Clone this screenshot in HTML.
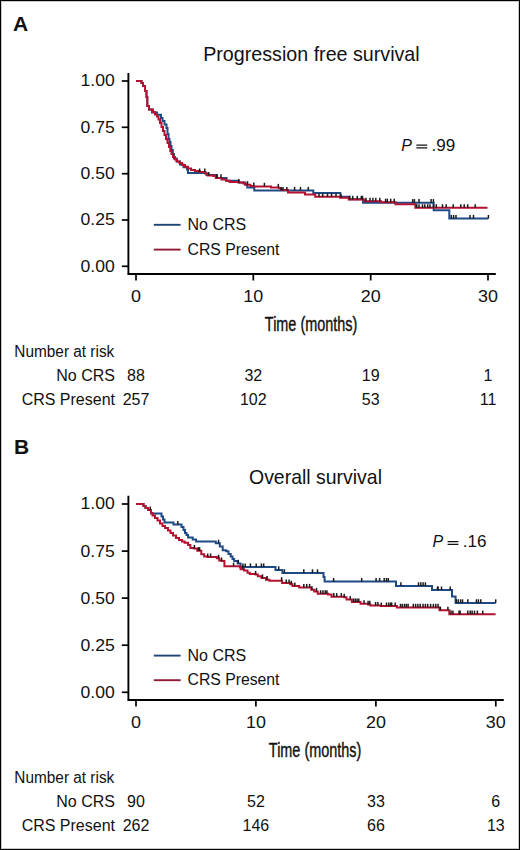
<!DOCTYPE html>
<html><head><meta charset="utf-8"><style>
html,body{margin:0;padding:0;background:#fff;}
body{width:520px;height:850px;overflow:hidden;}
svg{display:block;}
</style></head><body>
<svg width="520" height="850" viewBox="0 0 520 850" font-family='"Liberation Sans", sans-serif' fill="#111">
<rect x="0.5" y="0.5" width="519" height="849" fill="#fff" stroke="#000" stroke-width="1"/>
<path d="M1.5,1 V849 M1,1.5 H519 M1,848.5 H519 M518.5,1 V849" stroke="#c8c8c8" stroke-width="1" fill="none"/>
<text x="13" y="31.2" font-size="21" font-weight="bold">A</text>
<text x="203.2" y="61.1" font-size="21" textLength="216.5" lengthAdjust="spacingAndGlyphs">Progression free survival</text>
<path d="M128.4,73.0 V274.9 M127.4,274.0 H495.8" stroke="#000" stroke-width="1.9" fill="none"/>
<line x1="121.8" y1="81.0" x2="128" y2="81.0" stroke="#000" stroke-width="1.7"/>
<text x="114.8" y="86.4" font-size="16" text-anchor="end" textLength="34.2" lengthAdjust="spacingAndGlyphs">1.00</text>
<line x1="121.8" y1="127.3" x2="128" y2="127.3" stroke="#000" stroke-width="1.7"/>
<text x="114.8" y="132.7" font-size="16" text-anchor="end" textLength="34.2" lengthAdjust="spacingAndGlyphs">0.75</text>
<line x1="121.8" y1="173.7" x2="128" y2="173.7" stroke="#000" stroke-width="1.7"/>
<text x="114.8" y="179.1" font-size="16" text-anchor="end" textLength="34.2" lengthAdjust="spacingAndGlyphs">0.50</text>
<line x1="121.8" y1="220.0" x2="128" y2="220.0" stroke="#000" stroke-width="1.7"/>
<text x="114.8" y="225.4" font-size="16" text-anchor="end" textLength="34.2" lengthAdjust="spacingAndGlyphs">0.25</text>
<line x1="121.8" y1="266.3" x2="128" y2="266.3" stroke="#000" stroke-width="1.7"/>
<text x="114.8" y="271.7" font-size="16" text-anchor="end" textLength="34.2" lengthAdjust="spacingAndGlyphs">0.00</text>
<line x1="136.0" y1="274.0" x2="136.0" y2="280.5" stroke="#000" stroke-width="1.7"/>
<text x="136.0" y="301.8" font-size="16" text-anchor="middle" textLength="10.0" lengthAdjust="spacingAndGlyphs">0</text>
<line x1="253.3" y1="274.0" x2="253.3" y2="280.5" stroke="#000" stroke-width="1.7"/>
<text x="253.3" y="301.8" font-size="16" text-anchor="middle" textLength="19.9" lengthAdjust="spacingAndGlyphs">10</text>
<line x1="370.7" y1="274.0" x2="370.7" y2="280.5" stroke="#000" stroke-width="1.7"/>
<text x="370.7" y="301.8" font-size="16" text-anchor="middle" textLength="19.9" lengthAdjust="spacingAndGlyphs">20</text>
<line x1="488.0" y1="274.0" x2="488.0" y2="280.5" stroke="#000" stroke-width="1.7"/>
<text x="488.0" y="301.8" font-size="16" text-anchor="middle" textLength="19.9" lengthAdjust="spacingAndGlyphs">30</text>
<text x="311.1" y="330.8" font-size="21" text-anchor="middle" textLength="92.5" lengthAdjust="spacingAndGlyphs" stroke="#111" stroke-width="0.4">Time (months)</text>
<text x="401.3" y="150.9" font-size="16" font-style="italic">P</text>
<path d="M416.4,145.2 H427.2 M416.4,147.9 H427.2" stroke="#111" stroke-width="1.3"/>
<text x="431.5" y="150.9" font-size="16" textLength="23.7" lengthAdjust="spacingAndGlyphs">.99</text>
<line x1="153.8" y1="224.8" x2="180.6" y2="224.8" stroke="#1e4474" stroke-width="1.9"/>
<line x1="153.8" y1="249.6" x2="180.6" y2="249.6" stroke="#8e1a33" stroke-width="1.9"/>
<text x="187.5" y="230.0" font-size="16">No CRS</text>
<text x="187.5" y="254.8" font-size="16" textLength="92" lengthAdjust="spacingAndGlyphs">CRS Present</text>
<path d="M136,81 H141.5 V83 H143 V86 H145 V91 H146.5 V97 H147.3 V106 H149 V109.6 H152 V112.5 H157 V114.8 H161 V118 H162.5 V121 H164.5 V124.5 H166.5 V128 H167.5 V134 H168.5 V139 H169.5 V142 H170.5 V146 H171.5 V150 H172.8 V154 H174 V158.5 H176.5 V161.5 H180 V164.5 H183.5 V167.3 H187 V169.6 H188 V173 H206.5 V175 H216.9 V177.9 H226.5 V180.8 H238.8 V182.5 H245 V184.5 H247.3 V187.5 H254.3 V190.5 H313.3 V193 H340.4 V196.8 H349 V199.2 H363 V202.7 H433.7 V210.2 H449.3 V218.5 H488.4" stroke="#1e4a86" stroke-width="2" fill="none"/>
<path d="M136,81 H141.5 V83 H143 V86 H145 V91 H146.5 V97 H147.3 V106 H149 V109.6 H153 V112 H155 V114.5 H157 V116.5 H158.5 V119.5 H160 V123 H161.5 V127 H163 V131 H164.5 V135 H166 V139 H167.5 V143 H169 V147 H170.3 V151 H171.5 V154 H173 V157 H175 V159.5 H177 V161.5 H179.5 V163 H182 V165 H185 V166.7 H188 V168.5 H191 V170 H195 V171 H199.6 V172.1 H205.4 V173.8 H207.7 V175.6 H213.5 V176.1 H215.8 V177.9 H221.5 V179.6 H226.1 V180.8 H229.6 V181.9 H238.8 V182.5 H243.4 V183.6 H245.7 V184.8 H250.4 V186 H254 V186.4 H271 V187.5 H278.8 V188.3 H281.1 V190 H288 V192.5 H305 V194.4 H315.2 V196.8 H340.2 V197.8 H348.7 V199.4 H364.5 V201.3 H381 V202.3 H395.5 V204.3 H415.3 V207.8 H487.5" stroke="#b51130" stroke-width="2" fill="none"/>
<g stroke="#1a1a1a" stroke-width="1.5"><line x1="216.9" y1="177.9" x2="216.9" y2="174.3"/><line x1="238.8" y1="182.5" x2="238.8" y2="178.9"/><line x1="281.1" y1="190.5" x2="281.1" y2="186.9"/><line x1="283.0" y1="190.5" x2="283.0" y2="186.9"/><line x1="286.9" y1="190.5" x2="286.9" y2="186.9"/><line x1="294.6" y1="190.5" x2="294.6" y2="186.9"/><line x1="300.5" y1="190.5" x2="300.5" y2="186.9"/><line x1="308.3" y1="190.5" x2="308.3" y2="186.9"/><line x1="412.7" y1="202.7" x2="412.7" y2="199.1"/><line x1="414.4" y1="202.7" x2="414.4" y2="199.1"/><line x1="419.0" y1="202.7" x2="419.0" y2="199.1"/><line x1="431.1" y1="202.7" x2="431.1" y2="199.1"/><line x1="433.4" y1="202.7" x2="433.4" y2="199.1"/><line x1="451.3" y1="218.5" x2="451.3" y2="214.9"/><line x1="453.6" y1="218.5" x2="453.6" y2="214.9"/><line x1="456.0" y1="218.5" x2="456.0" y2="214.9"/><line x1="470.0" y1="218.5" x2="470.0" y2="214.9"/><line x1="473.5" y1="218.5" x2="473.5" y2="214.9"/><line x1="488.4" y1="218.5" x2="488.4" y2="214.9"/></g>
<g stroke="#1a1a1a" stroke-width="1.5"><line x1="199.6" y1="172.1" x2="199.6" y2="168.5"/><line x1="204.8" y1="172.1" x2="204.8" y2="168.5"/><line x1="208.8" y1="175.6" x2="208.8" y2="172.0"/><line x1="221.0" y1="177.9" x2="221.0" y2="174.3"/><line x1="247.5" y1="184.8" x2="247.5" y2="181.2"/><line x1="253.8" y1="186.0" x2="253.8" y2="182.4"/><line x1="264.4" y1="186.4" x2="264.4" y2="182.8"/><line x1="278.3" y1="187.5" x2="278.3" y2="183.9"/><line x1="319.0" y1="196.8" x2="319.0" y2="193.2"/><line x1="322.7" y1="196.8" x2="322.7" y2="193.2"/><line x1="327.5" y1="196.8" x2="327.5" y2="193.2"/><line x1="331.5" y1="196.8" x2="331.5" y2="193.2"/><line x1="336.0" y1="196.8" x2="336.0" y2="193.2"/><line x1="341.0" y1="197.8" x2="341.0" y2="194.2"/><line x1="349.8" y1="199.4" x2="349.8" y2="195.8"/><line x1="352.7" y1="199.4" x2="352.7" y2="195.8"/><line x1="357.3" y1="199.4" x2="357.3" y2="195.8"/><line x1="361.3" y1="199.4" x2="361.3" y2="195.8"/><line x1="362.5" y1="199.4" x2="362.5" y2="195.8"/><line x1="366.0" y1="201.3" x2="366.0" y2="197.7"/><line x1="370.0" y1="201.3" x2="370.0" y2="197.7"/><line x1="372.9" y1="201.3" x2="372.9" y2="197.7"/><line x1="375.8" y1="201.3" x2="375.8" y2="197.7"/><line x1="379.8" y1="201.3" x2="379.8" y2="197.7"/><line x1="385.6" y1="202.3" x2="385.6" y2="198.7"/><line x1="387.3" y1="202.3" x2="387.3" y2="198.7"/><line x1="390.7" y1="202.3" x2="390.7" y2="198.7"/><line x1="394.2" y1="202.3" x2="394.2" y2="198.7"/><line x1="416.7" y1="207.8" x2="416.7" y2="204.2"/><line x1="419.0" y1="207.8" x2="419.0" y2="204.2"/><line x1="422.5" y1="207.8" x2="422.5" y2="204.2"/><line x1="424.8" y1="207.8" x2="424.8" y2="204.2"/><line x1="427.7" y1="207.8" x2="427.7" y2="204.2"/><line x1="430.0" y1="207.8" x2="430.0" y2="204.2"/><line x1="433.4" y1="207.8" x2="433.4" y2="204.2"/><line x1="436.3" y1="207.8" x2="436.3" y2="204.2"/><line x1="442.5" y1="207.8" x2="442.5" y2="204.2"/><line x1="446.2" y1="207.8" x2="446.2" y2="204.2"/><line x1="453.2" y1="207.8" x2="453.2" y2="204.2"/><line x1="460.8" y1="207.8" x2="460.8" y2="204.2"/><line x1="464.2" y1="207.8" x2="464.2" y2="204.2"/><line x1="467.7" y1="207.8" x2="467.7" y2="204.2"/><line x1="475.2" y1="207.8" x2="475.2" y2="204.2"/></g>
<text x="14.3" y="357.0" font-size="16" textLength="100" lengthAdjust="spacingAndGlyphs">Number at risk</text>
<text x="115" y="381.3" font-size="16" text-anchor="end">No CRS</text>
<text x="115" y="405.3" font-size="16" text-anchor="end">CRS Present</text>
<text x="136.0" y="381.3" font-size="16" text-anchor="middle">88</text>
<text x="253.3" y="381.3" font-size="16" text-anchor="middle">32</text>
<text x="370.7" y="381.3" font-size="16" text-anchor="middle">19</text>
<text x="488.0" y="381.3" font-size="16" text-anchor="middle">1</text>
<text x="136.0" y="405.3" font-size="16" text-anchor="middle">257</text>
<text x="253.3" y="405.3" font-size="16" text-anchor="middle">102</text>
<text x="370.7" y="405.3" font-size="16" text-anchor="middle">53</text>
<text x="488.0" y="405.3" font-size="16" text-anchor="middle">11</text>
<text x="14" y="453.8" font-size="21" font-weight="bold">B</text>
<text x="249.0" y="483.6" font-size="21" textLength="133.0" lengthAdjust="spacingAndGlyphs">Overall survival</text>
<path d="M128.4,495.8 V700.9 M127.4,700.0 H503.8" stroke="#000" stroke-width="1.9" fill="none"/>
<line x1="121.8" y1="504.0" x2="128" y2="504.0" stroke="#000" stroke-width="1.7"/>
<text x="114.8" y="509.4" font-size="16" text-anchor="end" textLength="34.2" lengthAdjust="spacingAndGlyphs">1.00</text>
<line x1="121.8" y1="551.1" x2="128" y2="551.1" stroke="#000" stroke-width="1.7"/>
<text x="114.8" y="556.5" font-size="16" text-anchor="end" textLength="34.2" lengthAdjust="spacingAndGlyphs">0.75</text>
<line x1="121.8" y1="598.1" x2="128" y2="598.1" stroke="#000" stroke-width="1.7"/>
<text x="114.8" y="603.5" font-size="16" text-anchor="end" textLength="34.2" lengthAdjust="spacingAndGlyphs">0.50</text>
<line x1="121.8" y1="645.2" x2="128" y2="645.2" stroke="#000" stroke-width="1.7"/>
<text x="114.8" y="650.6" font-size="16" text-anchor="end" textLength="34.2" lengthAdjust="spacingAndGlyphs">0.25</text>
<line x1="121.8" y1="692.3" x2="128" y2="692.3" stroke="#000" stroke-width="1.7"/>
<text x="114.8" y="697.7" font-size="16" text-anchor="end" textLength="34.2" lengthAdjust="spacingAndGlyphs">0.00</text>
<line x1="136.0" y1="700.0" x2="136.0" y2="706.5" stroke="#000" stroke-width="1.7"/>
<text x="136.0" y="727.8" font-size="16" text-anchor="middle" textLength="10.0" lengthAdjust="spacingAndGlyphs">0</text>
<line x1="255.9" y1="700.0" x2="255.9" y2="706.5" stroke="#000" stroke-width="1.7"/>
<text x="255.9" y="727.8" font-size="16" text-anchor="middle" textLength="19.9" lengthAdjust="spacingAndGlyphs">10</text>
<line x1="375.9" y1="700.0" x2="375.9" y2="706.5" stroke="#000" stroke-width="1.7"/>
<text x="375.9" y="727.8" font-size="16" text-anchor="middle" textLength="19.9" lengthAdjust="spacingAndGlyphs">20</text>
<line x1="495.8" y1="700.0" x2="495.8" y2="706.5" stroke="#000" stroke-width="1.7"/>
<text x="495.8" y="727.8" font-size="16" text-anchor="middle" textLength="19.9" lengthAdjust="spacingAndGlyphs">30</text>
<text x="315.1" y="756.8" font-size="21" text-anchor="middle" textLength="92.5" lengthAdjust="spacingAndGlyphs" stroke="#111" stroke-width="0.4">Time (months)</text>
<text x="432.5" y="547.3" font-size="16" font-style="italic">P</text>
<path d="M447.6,541.6 H458.4 M447.6,544.3 H458.4" stroke="#111" stroke-width="1.3"/>
<text x="462.7" y="547.3" font-size="16" textLength="23.7" lengthAdjust="spacingAndGlyphs">.16</text>
<line x1="153.8" y1="655.6" x2="180.6" y2="655.6" stroke="#1e4474" stroke-width="1.9"/>
<line x1="153.8" y1="680.2" x2="180.6" y2="680.2" stroke="#8e1a33" stroke-width="1.9"/>
<text x="187.5" y="660.8" font-size="16">No CRS</text>
<text x="187.5" y="685.4" font-size="16" textLength="92" lengthAdjust="spacingAndGlyphs">CRS Present</text>
<path d="M136,504 H143.5 V506 H145.5 V508 H148 V510 H151 V513.5 H161.5 V516.5 H163 V519.5 H164.5 V522.6 H173.5 V524.6 H181.5 V527 H183.5 V530 H185 V533 H186.5 V535 H188.1 V537.5 H192.7 V539.5 H196.1 V541.5 H215.8 V543.3 H219.8 V546.5 H222.7 V550.2 H226.1 V551.3 H228.5 V554 H230.7 V556.5 H232.5 V559 H234.2 V561.1 H237.7 V563.4 H240.6 V567 H275.5 V569.9 H282.4 V572.9 H323.5 V577.1 H324.6 V581.6 H396 V585.9 H432 V590.1 H452 V596.4 H455.6 V602.9 H495.7" stroke="#1e4a86" stroke-width="2" fill="none"/>
<path d="M136,504 H143.5 V506 H145.5 V508 H148 V510 H151 V513 H152.5 V515.5 H155 V518 H157.5 V520.5 H160 V523.5 H162.5 V526 H165 V528 H168 V530.5 H170.5 V533 H173 V535.5 H176 V538 H179 V540 H182 V541.5 H184.6 V542.7 H188.1 V545 H190.4 V547.9 H193.8 V548.5 H197.3 V550.8 H201.3 V554.2 H204.2 V556.5 H207.7 V557.1 H216.9 V558.3 H219.2 V560.6 H221.5 V561.1 H224.4 V566.3 H240 V567.2 H240.6 V569.3 H244.1 V570.5 H247.5 V572.8 H249.8 V573.9 H255.6 V574.5 H257.9 V576.2 H261.4 V578 H266 V579.7 H269.4 V580.8 H282.1 V583.1 H290.2 V584.3 H292.5 V586 H299.2 V587.5 H311.3 V589.8 H314.2 V591.5 H317.7 V593.8 H328.1 V594.4 H331.5 V596.7 H344.2 V597.3 H346.5 V599.6 H351.9 V602.1 H360.5 V603.8 H368.1 V604.4 H370.4 V605.6 H380.8 V606.1 H396.9 V607.4 H439.5 V610.3 H449.3 V614.2 H495.6" stroke="#b51130" stroke-width="2" fill="none"/>
<g stroke="#1a1a1a" stroke-width="1.5"><line x1="150.2" y1="510.0" x2="150.2" y2="506.4"/><line x1="177.8" y1="524.6" x2="177.8" y2="521.0"/><line x1="218.6" y1="543.3" x2="218.6" y2="539.7"/><line x1="238.3" y1="563.4" x2="238.3" y2="559.8"/><line x1="242.9" y1="567.0" x2="242.9" y2="563.4"/><line x1="245.2" y1="567.0" x2="245.2" y2="563.4"/><line x1="250.4" y1="567.0" x2="250.4" y2="563.4"/><line x1="256.2" y1="567.0" x2="256.2" y2="563.4"/><line x1="261.4" y1="567.0" x2="261.4" y2="563.4"/><line x1="263.7" y1="567.0" x2="263.7" y2="563.4"/><line x1="278.7" y1="569.9" x2="278.7" y2="566.3"/><line x1="284.4" y1="572.9" x2="284.4" y2="569.3"/><line x1="303.8" y1="572.9" x2="303.8" y2="569.3"/><line x1="312.5" y1="572.9" x2="312.5" y2="569.3"/><line x1="317.5" y1="572.9" x2="317.5" y2="569.3"/><line x1="333.6" y1="581.6" x2="333.6" y2="578.0"/><line x1="361.7" y1="581.6" x2="361.7" y2="578.0"/><line x1="376.1" y1="581.6" x2="376.1" y2="578.0"/><line x1="379.6" y1="581.6" x2="379.6" y2="578.0"/><line x1="384.2" y1="581.6" x2="384.2" y2="578.0"/><line x1="386.5" y1="581.6" x2="386.5" y2="578.0"/><line x1="388.3" y1="581.6" x2="388.3" y2="578.0"/><line x1="400.9" y1="585.9" x2="400.9" y2="582.3"/><line x1="418.5" y1="585.9" x2="418.5" y2="582.3"/><line x1="420.8" y1="585.9" x2="420.8" y2="582.3"/><line x1="423.1" y1="585.9" x2="423.1" y2="582.3"/><line x1="425.4" y1="585.9" x2="425.4" y2="582.3"/><line x1="437.5" y1="590.1" x2="437.5" y2="586.5"/><line x1="438.1" y1="590.1" x2="438.1" y2="586.5"/><line x1="441.5" y1="590.1" x2="441.5" y2="586.5"/><line x1="450.2" y1="590.1" x2="450.2" y2="586.5"/><line x1="456.3" y1="602.9" x2="456.3" y2="599.3"/><line x1="458.2" y1="602.9" x2="458.2" y2="599.3"/><line x1="460.6" y1="602.9" x2="460.6" y2="599.3"/><line x1="462.5" y1="602.9" x2="462.5" y2="599.3"/><line x1="467.8" y1="602.9" x2="467.8" y2="599.3"/><line x1="476.4" y1="602.9" x2="476.4" y2="599.3"/><line x1="478.4" y1="602.9" x2="478.4" y2="599.3"/><line x1="480.8" y1="602.9" x2="480.8" y2="599.3"/><line x1="495.7" y1="602.9" x2="495.7" y2="599.3"/></g>
<g stroke="#1a1a1a" stroke-width="1.5"><line x1="194.4" y1="548.5" x2="194.4" y2="544.9"/><line x1="198.5" y1="550.8" x2="198.5" y2="547.2"/><line x1="199.6" y1="550.8" x2="199.6" y2="547.2"/><line x1="207.7" y1="557.1" x2="207.7" y2="553.5"/><line x1="210.6" y1="557.1" x2="210.6" y2="553.5"/><line x1="218.6" y1="558.3" x2="218.6" y2="554.7"/><line x1="221.5" y1="561.1" x2="221.5" y2="557.5"/><line x1="233.6" y1="566.3" x2="233.6" y2="562.7"/><line x1="242.9" y1="569.3" x2="242.9" y2="565.7"/><line x1="255.6" y1="574.5" x2="255.6" y2="570.9"/><line x1="262.5" y1="578.0" x2="262.5" y2="574.4"/><line x1="267.1" y1="579.7" x2="267.1" y2="576.1"/><line x1="281.6" y1="580.8" x2="281.6" y2="577.2"/><line x1="286.2" y1="583.1" x2="286.2" y2="579.5"/><line x1="289.1" y1="583.1" x2="289.1" y2="579.5"/><line x1="291.4" y1="584.3" x2="291.4" y2="580.7"/><line x1="294.8" y1="586.0" x2="294.8" y2="582.4"/><line x1="303.8" y1="587.5" x2="303.8" y2="583.9"/><line x1="306.7" y1="587.5" x2="306.7" y2="583.9"/><line x1="309.6" y1="587.5" x2="309.6" y2="583.9"/><line x1="311.9" y1="589.8" x2="311.9" y2="586.2"/><line x1="316.5" y1="591.5" x2="316.5" y2="587.9"/><line x1="320.6" y1="593.8" x2="320.6" y2="590.2"/><line x1="322.9" y1="593.8" x2="322.9" y2="590.2"/><line x1="325.2" y1="593.8" x2="325.2" y2="590.2"/><line x1="326.9" y1="593.8" x2="326.9" y2="590.2"/><line x1="333.8" y1="596.7" x2="333.8" y2="593.1"/><line x1="336.7" y1="596.7" x2="336.7" y2="593.1"/><line x1="341.3" y1="596.7" x2="341.3" y2="593.1"/><line x1="344.2" y1="597.3" x2="344.2" y2="593.7"/><line x1="350.2" y1="599.6" x2="350.2" y2="596.0"/><line x1="353.7" y1="602.1" x2="353.7" y2="598.5"/><line x1="355.4" y1="602.1" x2="355.4" y2="598.5"/><line x1="357.1" y1="602.1" x2="357.1" y2="598.5"/><line x1="358.8" y1="602.1" x2="358.8" y2="598.5"/><line x1="364.0" y1="603.8" x2="364.0" y2="600.2"/><line x1="368.1" y1="604.4" x2="368.1" y2="600.8"/><line x1="369.8" y1="604.4" x2="369.8" y2="600.8"/><line x1="375.6" y1="605.6" x2="375.6" y2="602.0"/><line x1="377.9" y1="605.6" x2="377.9" y2="602.0"/><line x1="381.3" y1="606.1" x2="381.3" y2="602.5"/><line x1="386.5" y1="606.1" x2="386.5" y2="602.5"/><line x1="388.8" y1="606.1" x2="388.8" y2="602.5"/><line x1="390.6" y1="606.1" x2="390.6" y2="602.5"/><line x1="391.7" y1="606.1" x2="391.7" y2="602.5"/><line x1="395.2" y1="606.1" x2="395.2" y2="602.5"/><line x1="400.5" y1="607.4" x2="400.5" y2="603.8"/><line x1="402.3" y1="607.4" x2="402.3" y2="603.8"/><line x1="404.5" y1="607.4" x2="404.5" y2="603.8"/><line x1="406.3" y1="607.4" x2="406.3" y2="603.8"/><line x1="408.1" y1="607.4" x2="408.1" y2="603.8"/><line x1="413.3" y1="607.4" x2="413.3" y2="603.8"/><line x1="415.6" y1="607.4" x2="415.6" y2="603.8"/><line x1="417.9" y1="607.4" x2="417.9" y2="603.8"/><line x1="420.2" y1="607.4" x2="420.2" y2="603.8"/><line x1="423.1" y1="607.4" x2="423.1" y2="603.8"/><line x1="425.4" y1="607.4" x2="425.4" y2="603.8"/><line x1="427.7" y1="607.4" x2="427.7" y2="603.8"/><line x1="430.6" y1="607.4" x2="430.6" y2="603.8"/><line x1="433.4" y1="607.4" x2="433.4" y2="603.8"/><line x1="435.8" y1="607.4" x2="435.8" y2="603.8"/><line x1="438.1" y1="607.4" x2="438.1" y2="603.8"/><line x1="440.4" y1="610.3" x2="440.4" y2="606.7"/><line x1="447.9" y1="610.3" x2="447.9" y2="606.7"/><line x1="451.0" y1="614.2" x2="451.0" y2="610.6"/><line x1="452.9" y1="614.2" x2="452.9" y2="610.6"/><line x1="459.1" y1="614.2" x2="459.1" y2="610.6"/><line x1="460.1" y1="614.2" x2="460.1" y2="610.6"/><line x1="467.8" y1="614.2" x2="467.8" y2="610.6"/><line x1="470.2" y1="614.2" x2="470.2" y2="610.6"/><line x1="472.1" y1="614.2" x2="472.1" y2="610.6"/><line x1="474.5" y1="614.2" x2="474.5" y2="610.6"/><line x1="477.4" y1="614.2" x2="477.4" y2="610.6"/><line x1="482.7" y1="614.2" x2="482.7" y2="610.6"/></g>
<text x="14.3" y="783.0" font-size="16" textLength="100" lengthAdjust="spacingAndGlyphs">Number at risk</text>
<text x="115" y="807.3" font-size="16" text-anchor="end">No CRS</text>
<text x="115" y="831.3" font-size="16" text-anchor="end">CRS Present</text>
<text x="136.0" y="807.3" font-size="16" text-anchor="middle">90</text>
<text x="255.9" y="807.3" font-size="16" text-anchor="middle">52</text>
<text x="375.9" y="807.3" font-size="16" text-anchor="middle">33</text>
<text x="495.8" y="807.3" font-size="16" text-anchor="middle">6</text>
<text x="136.0" y="831.3" font-size="16" text-anchor="middle">262</text>
<text x="255.9" y="831.3" font-size="16" text-anchor="middle">146</text>
<text x="375.9" y="831.3" font-size="16" text-anchor="middle">66</text>
<text x="495.8" y="831.3" font-size="16" text-anchor="middle">13</text>
</svg>
</body></html>
